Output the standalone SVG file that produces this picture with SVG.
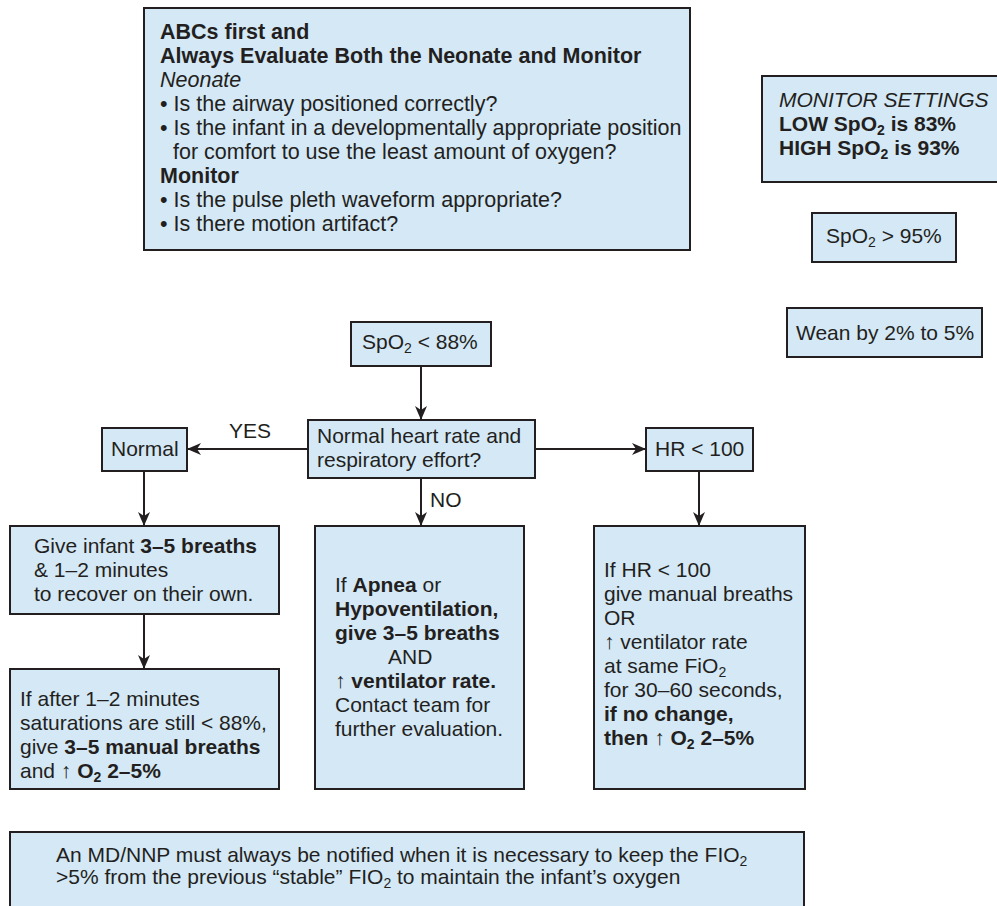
<svg xmlns="http://www.w3.org/2000/svg" width="997" height="906" viewBox="0 0 997 906">
  <defs>
    <style>
      .box { fill: #d4e8f6; stroke: #231f20; stroke-width: 2; }
      .t { font-family: "Liberation Sans", Arial, sans-serif; font-size: 21px; fill: #231f20; }
      .big { font-size: 21.5px; }
      .b { font-weight: bold; }
      .i { font-style: italic; }
      .sub { font-size: 14px; }
      .link { stroke: #231f20; stroke-width: 2; fill: none; marker-end: url(#arrow); }
    </style>
    <marker id="arrow" markerUnits="userSpaceOnUse" markerWidth="15" markerHeight="12" refX="14" refY="6" orient="auto">
      <path d="M0,0 L14,6 L0,12 L4,6 Z" fill="#231f20"/>
    </marker>
  </defs>
  <rect width="997" height="906" fill="#ffffff"/>

  <!-- assessment checklist -->
  <g id="abc-check">
    <rect class="box" x="144" y="8" width="546" height="242"/>
    <text class="t big b" x="160" y="39">ABCs first and</text>
    <text class="t big b" x="160" y="63">Always Evaluate Both the Neonate and Monitor</text>
    <text class="t big i" x="160" y="87">Neonate</text>
    <text class="t big" x="160" y="111">• Is the airway positioned correctly?</text>
    <text class="t big" x="160" y="135">• Is the infant in a developmentally appropriate position</text>
    <text class="t big" x="173" y="159">for comfort to use the least amount of oxygen?</text>
    <text class="t big b" x="160" y="183">Monitor</text>
    <text class="t big" x="160" y="207">• Is the pulse pleth waveform appropriate?</text>
    <text class="t big" x="160" y="231">• Is there motion artifact?</text>
  </g>

  <!-- alarm limits -->
  <g id="monitor-settings">
    <rect class="box" x="762" y="76" width="245" height="106"/>
    <text class="t i" x="779" y="107">MONITOR SETTINGS</text>
    <text class="t b" x="779" y="131">LOW SpO<tspan class="sub" dy="4">2</tspan><tspan dy="-4"> is 83%</tspan></text>
    <text class="t b" x="779" y="155">HIGH SpO<tspan class="sub" dy="4">2</tspan><tspan dy="-4"> is 93%</tspan></text>
  </g>

  <g id="spo2-high">
    <rect class="box" x="812" y="213" width="144" height="49"/>
    <text class="t" x="826" y="243">SpO<tspan class="sub" dy="4">2</tspan><tspan dy="-4"> &gt; 95%</tspan></text>
  </g>

  <g id="wean">
    <rect class="box" x="787" y="308" width="195" height="49"/>
    <text class="t" x="796" y="340">Wean by 2% to 5%</text>
  </g>

  <!-- low saturation pathway -->
  <g id="spo2-low">
    <rect class="box" x="351" y="322" width="140" height="44"/>
    <text class="t" x="362" y="349">SpO<tspan class="sub" dy="4">2</tspan><tspan dy="-4"> &lt; 88%</tspan></text>
  </g>

  <g id="hr-question">
    <rect class="box" x="308" y="420" width="227" height="58"/>
    <text class="t" x="317" y="443">Normal heart rate and</text>
    <text class="t" x="317" y="467">respiratory effort?</text>
  </g>

  <g id="normal">
    <rect class="box" x="102" y="428" width="85" height="43"/>
    <text class="t" x="111" y="456">Normal</text>
  </g>

  <g id="hr-low">
    <rect class="box" x="646" y="428" width="107" height="43"/>
    <text class="t" x="655" y="456">HR &lt; 100</text>
  </g>

  <g id="recover">
    <rect class="box" x="10" y="526" width="269" height="88"/>
    <text class="t" x="34" y="553">Give infant <tspan class="b">3–5 breaths</tspan></text>
    <text class="t" x="34" y="577">&amp; 1–2 minutes</text>
    <text class="t" x="34" y="601">to recover on their own.</text>
  </g>

  <g id="manual-breaths">
    <rect class="box" x="10" y="669" width="269" height="120"/>
    <text class="t" x="20" y="706">If after 1–2 minutes</text>
    <text class="t" x="20" y="730">saturations are still &lt; 88%,</text>
    <text class="t" x="20" y="754">give <tspan class="b">3–5 manual breaths</tspan></text>
    <text class="t" x="20" y="778">and ↑ <tspan class="b">O</tspan><tspan class="b sub" dy="4">2</tspan><tspan class="b" dy="-4"> 2–5%</tspan></text>
  </g>

  <g id="apnea">
    <rect class="box" x="315" y="526" width="209" height="263"/>
    <text class="t" x="335" y="592">If <tspan class="b">Apnea</tspan> or</text>
    <text class="t b" x="335" y="616">Hypoventilation,</text>
    <text class="t b" x="335" y="640">give 3–5 breaths</text>
    <text class="t" x="388" y="664">AND</text>
    <text class="t" x="335" y="688">↑ <tspan class="b">ventilator rate.</tspan></text>
    <text class="t" x="335" y="712">Contact team for</text>
    <text class="t" x="335" y="736">further evaluation.</text>
  </g>

  <g id="bradycardia">
    <rect class="box" x="594" y="526" width="211" height="263"/>
    <text class="t" x="604" y="577">If HR &lt; 100</text>
    <text class="t" x="604" y="601">give manual breaths</text>
    <text class="t" x="604" y="625">OR</text>
    <text class="t" x="604" y="649">↑ ventilator rate</text>
    <text class="t" x="604" y="673">at same FiO<tspan class="sub" dy="4">2</tspan></text>
    <text class="t" x="604" y="697">for 30–60 seconds,</text>
    <text class="t b" x="604" y="721">if no change,</text>
    <text class="t" x="604" y="745"><tspan class="b">then</tspan> ↑ <tspan class="b">O</tspan><tspan class="b sub" dy="4">2</tspan><tspan class="b" dy="-4"> 2–5%</tspan></text>
  </g>

  <g id="notify">
    <rect class="box" x="10" y="832" width="794" height="90"/>
    <text class="t" x="56" y="862">An MD/NNP must always be notified when it is necessary to keep the FIO<tspan class="sub" dy="4">2</tspan></text>
    <text class="t" x="56" y="884">&gt;5% from the previous “stable” FIO<tspan class="sub" dy="4">2</tspan><tspan dy="-4"> to maintain the infant’s oxygen</tspan></text>
  </g>

  <!-- connectors -->
  <g id="connectors">
    <line class="link" x1="421" y1="366" x2="421" y2="420"/>
    <line class="link" x1="308" y1="449" x2="187" y2="449"/>
    <line class="link" x1="535" y1="449" x2="646" y2="449"/>
    <line class="link" x1="421" y1="478" x2="421" y2="526"/>
    <line class="link" x1="144" y1="471" x2="144" y2="526"/>
    <line class="link" x1="699" y1="471" x2="699" y2="526"/>
    <line class="link" x1="144" y1="614" x2="144" y2="669"/>
    <text class="t" x="229" y="438">YES</text>
    <text class="t" x="430" y="507">NO</text>
  </g>
</svg>
